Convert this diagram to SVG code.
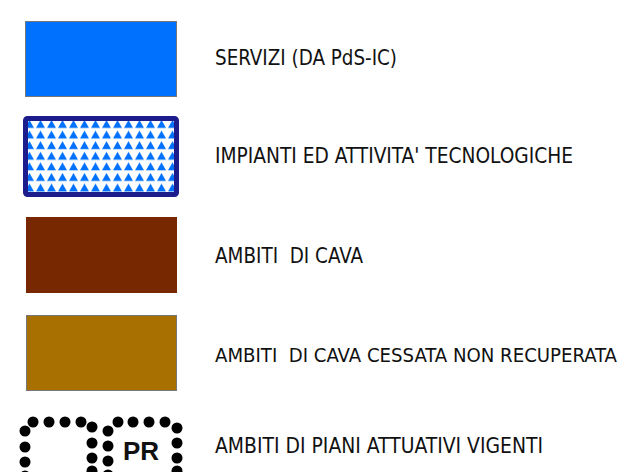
<svg xmlns="http://www.w3.org/2000/svg" width="625" height="472" viewBox="0 0 625 472">
<style>
.lbl{font-family:"DejaVu Sans Condensed","DejaVu Sans",sans-serif;font-size:21px;fill:#111;white-space:pre}
.sw{stroke:#777;stroke-width:1}
.dot{fill:#000}
.pr{font-family:"Liberation Sans",Arial,sans-serif;font-weight:bold;font-size:26px;fill:#111}
</style>
<defs>
<pattern id="tri" patternUnits="userSpaceOnUse" x="24" y="119" width="11" height="10.6">
<rect width="11" height="10.6" fill="#fff"/>
<polygon points="1,9 5.5,1 10,9" fill="#0070ff"/>
</pattern>
</defs>
<g id="servizi">
<rect class="sw" x="25.5" y="21.5" width="151" height="75" fill="#0070ff"/>
<text class="lbl" x="215" y="65" textLength="182" lengthAdjust="spacingAndGlyphs">SERVIZI (DA PdS-IC)</text>
</g>
<g id="impianti">
<rect x="25.5" y="118.5" width="151" height="76" rx="2" fill="url(#tri)" stroke="#1c1c8c" stroke-width="5"/>
<text class="lbl" x="215" y="163" textLength="358" lengthAdjust="spacingAndGlyphs">IMPIANTI ED ATTIVITA' TECNOLOGICHE</text>
</g>
<g id="cava">
<rect x="26" y="217" width="151" height="76" fill="#772800"/>
<text class="lbl" x="215" y="263" textLength="148" lengthAdjust="spacingAndGlyphs">AMBITI  DI CAVA</text>
</g>
<g id="cava-cessata">
<rect class="sw" x="26.5" y="315.5" width="150" height="75" fill="#a87000"/>
<text class="lbl" x="215" y="362" style="font-size:19.5px" textLength="402" lengthAdjust="spacingAndGlyphs">AMBITI  DI CAVA CESSATA NON RECUPERATA</text>
</g>
<g id="piani-attuativi">
<g class="dot">
<circle cx="25" cy="431" r="5.5"/><circle cx="25" cy="447" r="5.5"/><circle cx="25" cy="462" r="5.5"/><circle cx="25" cy="476" r="5.5"/>
<circle cx="33" cy="422" r="5.5"/><circle cx="49" cy="422" r="5.5"/><circle cx="65" cy="422" r="5.5"/><circle cx="81" cy="422" r="5.5"/>
<circle cx="92" cy="427" r="5.5"/><circle cx="92" cy="443" r="5.5"/><circle cx="92" cy="458" r="5.5"/><circle cx="92" cy="471" r="5.5"/>
<circle cx="108" cy="431" r="5.5"/><circle cx="108" cy="446" r="5.5"/><circle cx="108" cy="461" r="5.5"/><circle cx="108" cy="475" r="5.5"/>
<circle cx="118" cy="422" r="5.5"/><circle cx="133" cy="422" r="5.5"/><circle cx="149" cy="422" r="5.5"/><circle cx="165" cy="422" r="5.5"/>
<circle cx="177" cy="428" r="5.5"/><circle cx="177" cy="443" r="5.5"/><circle cx="177" cy="458" r="5.5"/><circle cx="177" cy="471" r="5.5"/>
</g>
<text class="pr" x="123" y="460">PR</text>
<text class="lbl" x="215" y="453" textLength="328" lengthAdjust="spacingAndGlyphs">AMBITI DI PIANI ATTUATIVI VIGENTI</text>
</g>
<g id="connectors"/>
</svg>
